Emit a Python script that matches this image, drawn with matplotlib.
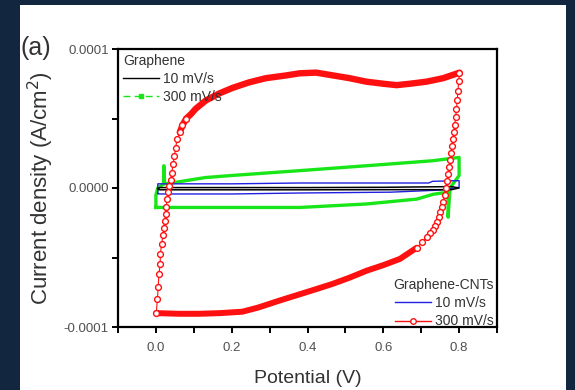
import matplotlib
matplotlib.use("Agg")
import matplotlib.pyplot as plt
from matplotlib.lines import Line2D
from matplotlib.patches import Rectangle
from matplotlib.ticker import MultipleLocator, FuncFormatter

plt.rcParams["font.family"] = ["Liberation Sans", "DejaVu Sans"]

# current density values are in units of 1e-4 A/cm^2
SCALE = 1e-4

# Graphene-CNTs, 300 mV/s : forward sweep (bottom-left -> top-right)
red_fwd_v = [0.001, 0.004, 0.006, 0.008, 0.011, 0.012, 0.015, 0.019, 0.021, 0.024,
             0.026, 0.027, 0.030, 0.033, 0.034, 0.039, 0.042, 0.045, 0.049, 0.052,
             0.056, 0.063, 0.070, 0.080, 0.092, 0.105, 0.132, 0.167, 0.202, 0.246,
             0.290, 0.344, 0.379, 0.423, 0.467, 0.511, 0.555, 0.600, 0.635, 0.670,
             0.714, 0.758, 0.801]
red_fwd_j = [-0.90, -0.80, -0.71, -0.62, -0.55, -0.475, -0.40, -0.34, -0.29, -0.235,
             -0.19, -0.14, -0.08, -0.03, 0.017, 0.055, 0.11, 0.17, 0.23, 0.29,
             0.35, 0.40, 0.45, 0.50, 0.53, 0.57, 0.63, 0.68, 0.72, 0.76,
             0.79, 0.81, 0.825, 0.83, 0.81, 0.79, 0.765, 0.75, 0.74, 0.75,
             0.765, 0.79, 0.83]
# Graphene-CNTs, 300 mV/s : reverse sweep (top-right -> bottom-left)
red_rev_v = [0.801, 0.799, 0.797, 0.795, 0.793, 0.791, 0.788, 0.786, 0.783, 0.781,
             0.779, 0.776, 0.774, 0.771, 0.768, 0.765, 0.762, 0.758, 0.754, 0.750,
             0.746, 0.741, 0.736, 0.730, 0.723, 0.715, 0.702, 0.688, 0.644, 0.600,
             0.556, 0.511, 0.466, 0.420, 0.379, 0.326, 0.270, 0.228, 0.170, 0.114,
             0.060, 0.001]
red_rev_j = [0.83, 0.77, 0.70, 0.63, 0.57, 0.51, 0.45, 0.40, 0.35, 0.30,
             0.25, 0.20, 0.15, 0.10, 0.05, 0.0, -0.05, -0.10, -0.14, -0.175,
             -0.21, -0.245, -0.275, -0.30, -0.325, -0.35, -0.39, -0.43, -0.51, -0.555,
             -0.595, -0.645, -0.69, -0.73, -0.765, -0.81, -0.86, -0.89, -0.90, -0.905,
             -0.905, -0.90]

# Graphene-CNTs, 10 mV/s
blue_v = [0.005, 0.005, 0.043, 0.20, 0.38, 0.60, 0.72, 0.73, 0.80, 0.80, 0.75, 0.62, 0.38, 0.20, 0.01, 0.005]
blue_j = [-0.04, 0.03, 0.03, 0.03, 0.036, 0.036, 0.036, 0.048, 0.053, 0.005, -0.015, -0.03, -0.036, -0.043, -0.043, -0.04]

# Graphene, 300 mV/s
green_v = [0.000, 0.000, 0.005, 0.020, 0.021, 0.023, 0.050, 0.130, 0.200, 0.380, 0.555, 0.730,
           0.800, 0.800, 0.776, 0.771, 0.771, 0.732, 0.688, 0.555, 0.380, 0.200, 0.000]
green_j = [-0.14, -0.05, 0.00, 0.03, 0.16, 0.03, 0.04, 0.075, 0.09, 0.125, 0.16, 0.196,
           0.22, 0.09, 0.0, -0.21, -0.03, -0.045, -0.08, -0.115, -0.14, -0.14, -0.14]

# Graphene, 10 mV/s
black_v = [0.005, 0.01, 0.20, 0.40, 0.60, 0.78, 0.80, 0.78, 0.60, 0.40, 0.20, 0.01, 0.005]
black_j = [-0.005, 0.003, 0.003, 0.003, 0.005, 0.01, 0.0, -0.012, -0.012, -0.013, -0.013, -0.013, -0.005]

x_ticks = [0.0, 0.2, 0.4, 0.6, 0.8]
y_ticks = [-0.0001, 0.0, 0.0001]

RED = "#ff1010"
GREEN = "#19e619"
BLUE = "#2020e0"
NAVY = "#13263f"
TXT = "#333333"


def sc(vals):
    return [v * SCALE for v in vals]


fig = plt.figure(figsize=(5.75, 3.9), dpi=100)
fig.patch.set_facecolor(NAVY)
panel = Rectangle((20 / 575, 0), 546 / 575, 385 / 390, transform=fig.transFigure,
                  facecolor="white", edgecolor="none", zorder=-10)
fig.add_artist(panel)

ax = fig.add_axes([118 / 575, 1 - 327 / 390, 379 / 575, 278 / 390])
ax.set_facecolor("white")

ax.plot(green_v, sc(green_j), color=GREEN, lw=2.4, solid_joinstyle="round")
ax.plot(blue_v, sc(blue_j), color=BLUE, lw=1.0)
ax.plot(black_v, sc(black_j), color="black", lw=1.1)

# dense part of the fast scan shows as a solid red band, steep parts as open circles
fwd_dense = 21
rev_dense = 27
ax.plot(red_fwd_v[fwd_dense:], sc(red_fwd_j[fwd_dense:]), color=RED, lw=4.6, solid_capstyle="round")
ax.plot(red_rev_v[rev_dense:], sc(red_rev_j[rev_dense:]), color=RED, lw=4.3, solid_capstyle="round")
ax.plot(red_fwd_v[:fwd_dense + 3], sc(red_fwd_j[:fwd_dense + 3]), color=RED, lw=0.8,
        marker="o", ms=4.2, mfc="white", mec=RED, mew=1.0)
ax.plot(red_rev_v[:rev_dense + 1], sc(red_rev_j[:rev_dense + 1]), color=RED, lw=0.8,
        marker="o", ms=4.2, mfc="white", mec=RED, mew=1.0)

ax.set_xlim(-0.1, 0.9)
ax.set_ylim(-0.0001, 0.0001)
ax.set_xticks(x_ticks)
ax.set_yticks(y_ticks)
ax.xaxis.set_minor_locator(MultipleLocator(0.1))
ax.yaxis.set_minor_locator(MultipleLocator(0.00005))
ax.yaxis.set_major_formatter(FuncFormatter(lambda v, p: f"{v:.4f}"))
ax.xaxis.set_major_formatter(FuncFormatter(lambda v, p: f"{v:.1f}"))
ax.tick_params(which="both", direction="out", width=1.4, length=4.5, top=False, right=False,
               labelsize=9.5, labelcolor="#505050", color="black")
ax.tick_params(axis="x", pad=6)
ax.tick_params(axis="y", pad=2)
for s in ax.spines.values():
    s.set_linewidth(1.6)

ax.set_xlabel("Potential (V)", fontsize=14, color=TXT, labelpad=12)
ax.set_ylabel("Current density (A/cm$^2$)", fontsize=16, color=TXT, labelpad=6)

fig.text(21 / 575, 1 - 48 / 390, "(a)", fontsize=18, color=TXT, ha="left", va="center")

# legends
h_black = Line2D([], [], color="black", lw=1.0)
h_green = Line2D([], [], color=GREEN, lw=1.0, ls=(0, (5, 3)), marker="s", ms=2.5,
                 markevery=[1], mfc=GREEN, mec=GREEN)
leg1 = ax.legend([h_black, h_green], ["10 mV/s", "300 mV/s"], title="Graphene",
                 loc="upper left", bbox_to_anchor=(0.0, 1.0), frameon=False, fontsize=10,
                 title_fontsize=10, alignment="left", borderpad=0.15, borderaxespad=0.2,
                 handlelength=2.6, handletextpad=0.3, labelspacing=0.3)
for t in leg1.get_texts() + [leg1.get_title()]:
    t.set_color(TXT)
ax.add_artist(leg1)

h_blue = Line2D([], [], color=BLUE, lw=1.0)
h_red = Line2D([0, 1, 2], [0, 0, 0], color=RED, lw=1.0, marker="o", ms=4, mfc="white",
               mec=RED, markevery=[1])
leg2 = ax.legend([h_blue, h_red], ["10 mV/s", "300 mV/s"], title="Graphene-CNTs",
                 loc="lower right", bbox_to_anchor=(1.0, -0.015), frameon=False, fontsize=10,
                 title_fontsize=10, alignment="right", borderpad=0.0, borderaxespad=0.2,
                 handlelength=2.6, handletextpad=0.3, labelspacing=0.3)
for t in leg2.get_texts() + [leg2.get_title()]:
    t.set_color(TXT)

fig.savefig("out.png", dpi=100, facecolor=fig.get_facecolor())
